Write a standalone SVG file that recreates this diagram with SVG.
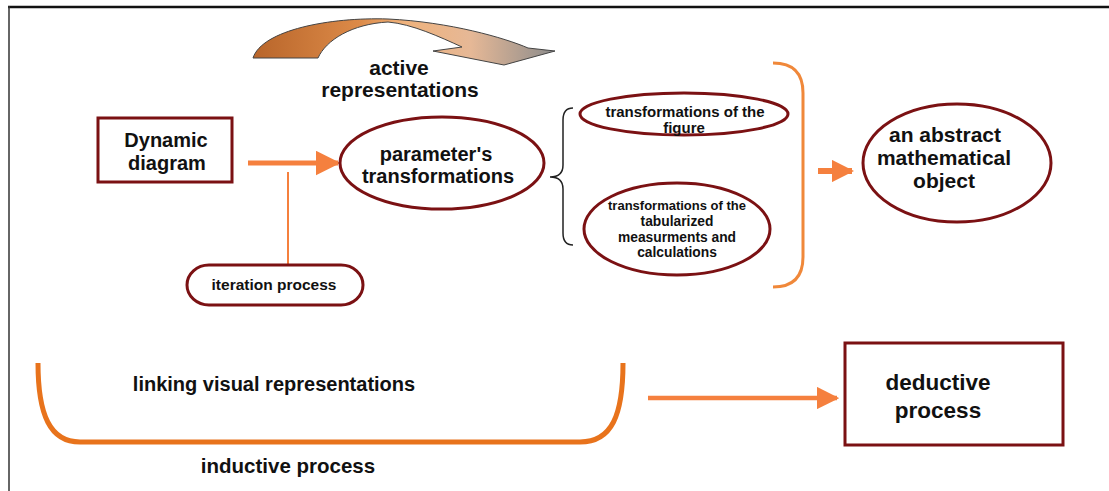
<svg xmlns="http://www.w3.org/2000/svg" width="1109" height="491" viewBox="0 0 1109 491">
<style>
  .t { font-family: "Liberation Sans", Arial, sans-serif; font-weight: bold; fill: #111; text-anchor: middle; }
  .node { fill: #fff; stroke: #7b1113; stroke-width: 3; }
  .oline { fill: none; stroke: #f5803e; }
</style>
<defs>
  <linearGradient id="arcGrad" x1="253" y1="0" x2="555" y2="0" gradientUnits="userSpaceOnUse">
    <stop offset="0" stop-color="#b8652a"/>
    <stop offset="0.35" stop-color="#dc8a48"/>
    <stop offset="0.5" stop-color="#efb27c"/>
    <stop offset="0.72" stop-color="#e6b896"/>
    <stop offset="1" stop-color="#8c8c8c"/>
  </linearGradient>
  <marker id="ah" viewBox="0 0 10 10" refX="9" refY="5" markerWidth="5" markerHeight="5" markerUnits="strokeWidth" orient="auto">
    <path d="M0,0 L10,5 L0,10 Z" fill="#f5803e"/>
  </marker>
  <marker id="ahs" viewBox="0 0 10 10" refX="9" refY="5" markerWidth="3.7" markerHeight="3.7" markerUnits="strokeWidth" orient="auto">
    <path d="M0,0 L10,5 L0,10 Z" fill="#f5803e"/>
  </marker>
</defs>
<rect width="1109" height="491" fill="#fff"/>
<g id="frame">
  <line x1="8" y1="7" x2="1109" y2="7" stroke="#111" stroke-width="2.5"/>
  <line x1="9" y1="6" x2="9" y2="491" stroke="#333" stroke-width="1.5"/>
</g>
<g id="active-representations">
  <path d="M253,58 C262,30 330,17 388,19 C450,22 505,38 528,48 L555,51 L504,65 L433,51 L462,47 C440,37 412,24 388,22 C352,24 326,40 318,58 Z" fill="url(#arcGrad)" stroke="#444" stroke-width="1"/>
  <text class="t" x="399" y="75" font-size="21">active</text>
  <text class="t" x="400" y="97" font-size="21">representations</text>
</g>
<g id="connectors">
  <line class="oline" x1="248" y1="163" x2="338" y2="163" stroke-width="5" marker-end="url(#ah)"/>
  <line class="oline" x1="288" y1="172" x2="288" y2="264" stroke-width="2"/>
  <line class="oline" x1="818" y1="171" x2="852" y2="171" stroke-width="6" marker-end="url(#ahs)"/>
  <line class="oline" x1="648" y1="398" x2="837" y2="398" stroke-width="4.5" marker-end="url(#ah)"/>
  <path d="M573,108 Q563,108 563,120 L563,165 Q563,177 550,177 Q563,177 563,189 L563,233 Q563,245 573,245" fill="none" stroke="#222" stroke-width="1.5"/>
  <path d="M773,63 Q803,63 803,93 L803,257 Q803,287 773,287" fill="none" stroke="#f0883a" stroke-width="3"/>
  <path d="M38,363 C38,415 50,442 80,442 L580,442 C612,442 623,415 623,363" fill="none" stroke="#e8731c" stroke-width="5"/>
</g>
<g id="dynamic-diagram">
  <rect class="node" x="98" y="118" width="134" height="64"/>
  <text class="t" x="166" y="147" font-size="20">Dynamic</text>
  <text class="t" x="167" y="170" font-size="20">diagram</text>
</g>
<g id="parameters-transformations">
  <ellipse class="node" cx="442" cy="163" rx="102" ry="46"/>
  <text class="t" x="436" y="161" font-size="20">parameter's</text>
  <text class="t" x="438" y="183" font-size="20">transformations</text>
</g>
<g id="iteration-process">
  <rect class="node" x="187" y="265" width="176" height="40" rx="22" ry="20"/>
  <text class="t" x="274" y="290" font-size="15.5">iteration process</text>
</g>
<g id="transformations-figure">
  <ellipse class="node" cx="684" cy="114" rx="104" ry="21"/>
  <text class="t" x="685" y="117" font-size="15">transformations of the</text>
  <text class="t" x="684" y="133" font-size="15">figure</text>
</g>
<g id="transformations-tabularized">
  <ellipse class="node" cx="677" cy="229" rx="93" ry="46"/>
  <text class="t" x="677" y="210" font-size="13">transformations of the</text>
  <text class="t" x="677" y="226" font-size="13.8">tabularized</text>
  <text class="t" x="677" y="242" font-size="13.8">measurments and</text>
  <text class="t" x="677" y="257" font-size="13.8">calculations</text>
</g>
<g id="abstract-object">
  <ellipse class="node" cx="957" cy="163" rx="94" ry="59"/>
  <text class="t" x="945" y="142" font-size="21">an abstract</text>
  <text class="t" x="944" y="165" font-size="21">mathematical</text>
  <text class="t" x="944" y="188" font-size="21">object</text>
</g>
<g id="linking">
  <text class="t" x="274" y="391" font-size="20">linking visual representations</text>
</g>
<g id="inductive">
  <text class="t" x="288" y="473" font-size="20.5">inductive process</text>
</g>
<g id="deductive-process">
  <rect class="node" x="845" y="343" width="218" height="102"/>
  <text class="t" x="938" y="390" font-size="22.5">deductive</text>
  <text class="t" x="938" y="418" font-size="22.5">process</text>
</g>
</svg>
